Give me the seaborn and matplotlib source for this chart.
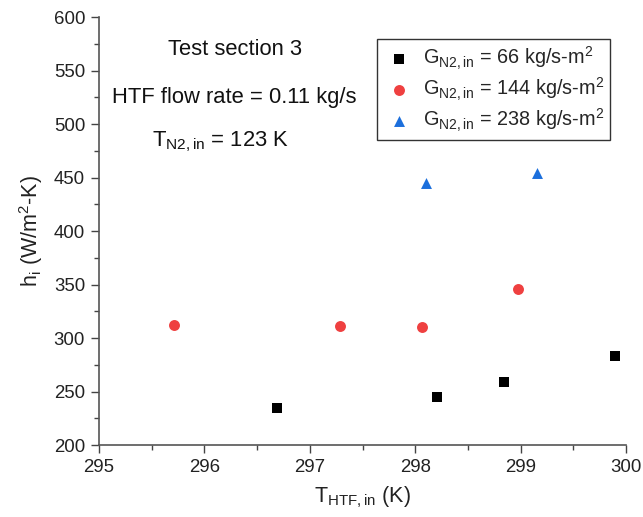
import matplotlib
matplotlib.use("Agg")
import matplotlib.pyplot as plt
import seaborn as sns
import pandas as pd
from matplotlib.ticker import MultipleLocator

# Data
g66_x = [296.69, 298.21, 298.84, 299.90]
g66_y = [234.9, 244.9, 259.2, 283.0]
g144_x = [295.71, 297.29, 298.06, 298.98]
g144_y = [312.1, 311.2, 310.6, 346.1]
g238_x = [298.10, 299.16]
g238_y = [444.6, 453.9]
series_labels = [r"$\mathregular{G_{N2,in}}$ = 66 kg/s-m$^\mathregular{2}$",
                 r"$\mathregular{G_{N2,in}}$ = 144 kg/s-m$^\mathregular{2}$",
                 r"$\mathregular{G_{N2,in}}$ = 238 kg/s-m$^\mathregular{2}$"]

sns.set_theme(style="ticks")
plt.rcParams["font.family"] = ["Liberation Sans", "DejaVu Sans"]
plt.rcParams["mathtext.fontset"] = "custom"
plt.rcParams["mathtext.rm"] = "Liberation Sans"
plt.rcParams["mathtext.it"] = "Liberation Sans:italic"

dfs = [
    pd.DataFrame({"T": g66_x, "h": g66_y}),
    pd.DataFrame({"T": g144_x, "h": g144_y}),
    pd.DataFrame({"T": g238_x, "h": g238_y}),
]
colors = ["black", "#EF4040", "#1C6FDC"]
markers = ["s", "o", "^"]
sizes = [50, 62, 62]

fig = plt.figure(figsize=(6.43, 5.17), dpi=100)
ax = fig.add_axes([99 / 643, 0.139, (626 - 99) / 643, 0.828])

for d, c, m, s, lab in zip(dfs, colors, markers, sizes, series_labels):
    sns.scatterplot(data=d, x="T", y="h", color=c, marker=m, s=s, linewidth=0, label=lab, ax=ax)

ax.set_xlim(295, 300)
ax.set_ylim(200, 600)
ax.xaxis.set_major_locator(MultipleLocator(1))
ax.xaxis.set_minor_locator(MultipleLocator(0.5))
ax.yaxis.set_major_locator(MultipleLocator(50))
ax.yaxis.set_minor_locator(MultipleLocator(25))
ax.tick_params(which="major", direction="out", length=6, width=1, labelsize=13.4,
               color="#444444", labelcolor="#222222", pad=4)
ax.tick_params(which="minor", direction="out", length=3.5, width=1, color="#444444")
for side in ["top", "right"]:
    ax.spines[side].set_visible(False)
for side in ["left", "bottom"]:
    ax.spines[side].set_color("#555555")
    ax.spines[side].set_linewidth(1.2)

ax.set_xlabel(r"$\mathregular{T_{HTF,in}}$ (K)", fontsize=15.5, color="#222222", labelpad=6)
ax.set_ylabel(r"$\mathregular{h_i}$ (W/m$^\mathregular{2}$-K)", fontsize=15.5, color="#222222", labelpad=6)

fig.text(235 / 643, 1 - 50 / 517, "Test section 3", fontsize=15.8, ha="center", va="center", color="#111111")
fig.text(234 / 643, 1 - 97 / 517, "HTF flow rate = 0.11 kg/s", fontsize=15.8, ha="center", va="center", color="#111111")
fig.text(221 / 643, 1 - 142 / 517, r"$\mathregular{T_{N2,in}}$ = 123 K", fontsize=15.8, ha="center", va="center", color="#111111")

leg = ax.legend(loc="upper right", bbox_to_anchor=(610 / 643, 1 - 39 / 517), bbox_transform=fig.transFigure,
                fontsize=14.3, frameon=True, fancybox=False, edgecolor="#333333", framealpha=1,
                handletextpad=0.4, labelspacing=0.2, borderpad=0.3, borderaxespad=0, markerscale=1.0,
                handlelength=1.6)
leg.get_frame().set_linewidth(1.0)

fig.savefig("out.png", dpi=100)
